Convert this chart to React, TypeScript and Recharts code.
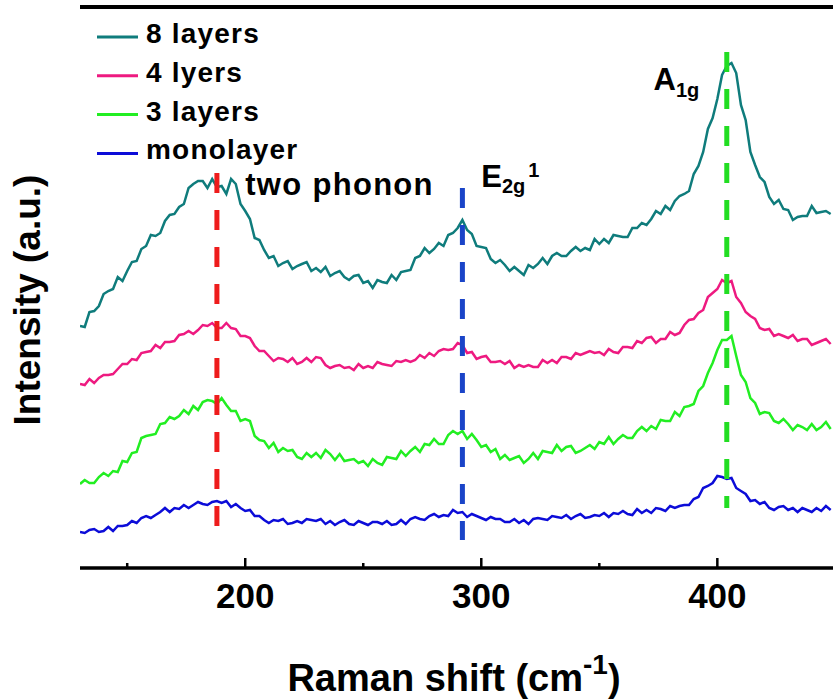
import React from 'react';
import { LineChart, Line, XAxis, YAxis, ReferenceLine, ReferenceDot, Legend } from 'recharts';

const FONT = "'Liberation Sans', Arial, Helvetica, sans-serif";

const ramanShift = [
  130,132,134,136,138,140,142,144,146,148,150,152,154,156,158,160,162,164,166,168,
  170,172,174,176,178,180,182,184,186,188,190,192,194,196,198,200,202,204,206,208,
  210,212,214,216,218,220,222,224,226,228,230,232,234,236,238,240,242,244,246,248,
  250,252,254,256,258,260,262,264,266,268,270,272,274,276,278,280,282,284,286,288,
  290,292,294,296,298,300,302,304,306,308,310,312,314,316,318,320,322,324,326,328,
  330,332,334,336,338,340,342,344,346,348,350,352,354,356,358,360,362,364,366,368,
  370,372,374,376,378,380,382,384,386,388,390,392,394,396,398,400,402,404,406,408,
  410,412,414,416,418,420,422,424,426,428,430,432,434,436,438,440,442,444,446,448,
];

const layers8 = [
  242,241,256,257,262,274,277,279,291,287,
  297,306,307,319,322,333,332,335,347,353,
  354,361,364,380,384,387,387,380,389,381,
  382,374,389,384,364,357,349,330,328,318,
  310,312,302,305,307,299,302,304,306,297,
  300,296,301,292,295,297,291,288,292,293,
  285,287,280,288,286,285,293,288,296,297,
  298,310,312,320,315,319,325,322,333,335,
  340,348,338,334,322,321,320,309,305,308,
  303,297,301,297,293,303,300,304,310,304,
  312,315,312,312,317,321,317,320,318,329,
  324,329,325,333,332,331,331,340,340,345,
  343,349,357,354,362,358,367,372,374,377,
  394,402,416,439,450,469,493,502,505,495,
  463,448,416,403,391,386,371,364,368,359,
  358,348,351,352,352,362,355,356,357,354,
];

const layers4 = [
  184,183,189,185,190,193,193,194,199,204,
  204,209,208,215,216,217,223,220,226,226,
  227,233,234,237,234,238,243,242,245,240,
  240,245,240,239,232,232,230,222,217,217,
  212,207,210,209,206,210,204,206,210,206,
  211,210,203,200,202,203,200,201,198,204,
  200,202,200,206,204,203,202,207,206,208,
  206,208,213,210,215,212,217,219,218,219,
  225,223,215,216,209,211,212,206,206,207,
  204,207,200,203,201,203,201,201,208,205,
  208,205,211,211,209,215,213,215,217,215,
  216,213,219,216,215,221,221,220,227,225,
  230,231,225,229,229,236,233,235,243,248,
  249,255,258,271,275,279,288,285,287,271,
  265,256,252,249,240,238,239,232,234,232,
  230,233,227,229,229,223,225,227,229,224,
];

const layers3 = [
  84,88,85,85,91,95,92,97,96,107,
  106,115,116,130,132,133,134,144,145,151,
  149,152,158,154,162,158,166,168,167,164,
  170,163,157,157,147,149,147,132,128,127,
  120,125,116,120,117,118,111,109,115,111,
  115,110,118,114,108,114,107,108,109,105,
  107,102,109,105,103,111,110,109,117,112,
  117,121,116,124,123,129,124,124,133,137,
  134,137,129,134,128,121,123,116,119,109,
  113,108,110,112,105,109,115,109,117,116,
  115,123,117,121,122,115,117,120,123,119,
  126,124,131,124,129,133,130,130,137,141,
  137,142,139,148,147,147,156,152,161,162,
  164,177,182,195,205,218,228,228,232,212,
  193,186,170,165,154,156,155,147,145,149,
  144,138,143,141,138,144,138,141,146,139,
];

const monolayer = [
  36,35,38,39,36,37,41,37,42,42,
  43,47,45,50,52,50,53,56,60,56,
  60,59,63,60,63,66,64,63,66,67,
  65,67,61,64,60,57,58,52,52,48,
  45,48,47,49,44,45,47,45,49,48,
  47,49,44,47,43,46,48,44,43,47,
  45,43,46,46,44,47,43,44,48,44,
  49,51,49,48,52,54,51,53,52,58,
  55,56,51,54,52,50,48,51,49,49,
  46,46,49,45,48,44,49,50,49,48,
  52,51,50,53,49,52,54,50,51,53,
  52,55,51,55,54,57,54,53,59,55,
  58,55,60,59,57,62,60,62,63,63,
  69,71,80,82,85,92,91,89,90,80,
  77,74,67,68,64,66,60,58,61,62,
  58,60,56,60,58,56,60,57,62,58,
];

const seriesKeys = ['l8', 'l4', 'l3', 'mono'];
const seriesNames = ['8 layers', '4 lyers', '3 layers', 'monolayer'];
const seriesColors = ['#0f7c7c', '#ee1a80', '#22ee22', '#0c0cd8'];

const xTicks = [150, 200, 250, 300, 350, 400];
const xLabeledTicks = [200, 300, 400];

const peakX = [188, 292, 404];
const peakTop = [395, 380, 516];
const peakBottom = [26, 28, 60];
const peakColors = ['#ee1c1c', '#1a44c8', '#22dd22'];

const annoX = [200, 300, 373];
const annoY = [373, 381, 478];

const data = ramanShift.map((x, i) => ({
  x,
  l8: layers8[i],
  l4: layers4[i],
  l3: layers3[i],
  mono: monolayer[i],
}));

const XTick = (props: any) => {
  const { x, y, payload } = props;
  const major = xLabeledTicks.indexOf(payload.value) >= 0;
  return (
    <g>
      <line x1={x} x2={x} y1={y} y2={y - (major ? 10 : 5)} stroke="#000" strokeWidth={2.5} />
      {major && (
        <text x={x} y={y + 40} textAnchor="middle" fontSize={35} fontWeight="bold" fontFamily={FONT} fill="#000">
          {payload.value}
        </text>
      )}
    </g>
  );
};

const annoRenderers = [
  (vb: any) => (
    <text x={vb.x} y={vb.y} fontSize={31} fontWeight="bold" fontFamily={FONT} letterSpacing={1.3} fill="#000">
      two phonon
    </text>
  ),
  (vb: any) => (
    <text x={vb.x} y={vb.y} fontSize={31} fontWeight="bold" fontFamily={FONT} fill="#000">
      E<tspan fontSize={20} dy={6}>2g</tspan>
      <tspan fontSize={20} dy={-16} dx={3}>1</tspan>
    </text>
  ),
  (vb: any) => (
    <text x={vb.x} y={vb.y} fontSize={31} fontWeight="bold" fontFamily={FONT} fill="#000">
      A<tspan fontSize={20} dy={7}>1g</tspan>
    </text>
  ),
];

const renderLegend = () => {
  return (
    <svg width={260} height={165} style={{ display: 'block' }}>
      {seriesNames.map((name, i) => (
        <g key={name}>
          <line x1={7} x2={48} y1={25 + i * 38.8} y2={25 + i * 38.8} stroke={seriesColors[i]} strokeWidth={3} />
          <text x={56} y={31 + i * 38.8} fontSize={28} fontWeight="bold" fontFamily={FONT} letterSpacing={1.2} fill="#000">
            {name}
          </text>
        </g>
      ))}
    </svg>
  );
};

export default function App() {
  return (
    <div style={{ position: 'absolute', left: 0, top: 0, width: 833, height: 699, overflow: 'hidden', background: '#fff' }}>
      <LineChart width={833} height={699} data={data} margin={{ top: 7, right: 0, bottom: 71, left: 80 }}>
        <XAxis
          dataKey="x"
          type="number"
          domain={[130, 449]}
          allowDataOverflow
          ticks={xTicks}
          interval={0}
          tickSize={0}
          tickMargin={0}
          tickLine={false}
          tick={<XTick />}
          axisLine={{ stroke: '#000', strokeWidth: 3.5 }}
          height={60}
        />
        <YAxis
          type="number"
          domain={[0, 561]}
          allowDataOverflow
          width={0}
          tick={false}
          tickLine={false}
          axisLine={{ stroke: '#000', strokeWidth: 3.5 }}
        />
        <ReferenceLine y={561} stroke="#000" strokeWidth={4} />
        {seriesKeys.map((k, i) => (
          <Line
            key={k}
            dataKey={k}
            name={seriesNames[i]}
            stroke={seriesColors[i]}
            strokeWidth={2.5}
            dot={false}
            isAnimationActive={false}
          />
        ))}
        {peakX.map((px, i) => (
          <ReferenceLine
            key={'p' + i}
            segment={[{ x: px, y: peakTop[i] }, { x: px, y: peakBottom[i] }]}
            stroke={peakColors[i]}
            strokeWidth={5}
            strokeDasharray="20 17"
          />
        ))}
        {annoX.map((ax, i) => (
          <ReferenceDot
            key={'a' + i}
            x={ax}
            y={annoY[i]}
            r={0}
            fill="none"
            stroke="none"
            label={((p: any) => annoRenderers[i](p.viewBox)) as any}
          />
        ))}
        <Legend
          layout="vertical"
          align="center"
          verticalAlign="middle"
          content={renderLegend}
          wrapperStyle={{ left: 90, top: 12, width: 260, height: 165 }}
        />
      </LineChart>
      <svg width={833} height={699} style={{ position: 'absolute', left: 0, top: 0, pointerEvents: 'none' }}>
        <text x={454} y={691} textAnchor="middle" fontSize={38} fontWeight="bold" fontFamily={FONT} fill="#000">
          Raman shift (cm
          <tspan fontSize={28} dy={-17}>-1</tspan>
          <tspan dy={17}>)</tspan>
        </text>
        <text x={40} y={300} transform="rotate(-90, 40, 300)" textAnchor="middle" fontSize={37} fontWeight="bold" fontFamily={FONT} fill="#000">
          Intensity (a.u.)
        </text>
      </svg>
    </div>
  );
}
